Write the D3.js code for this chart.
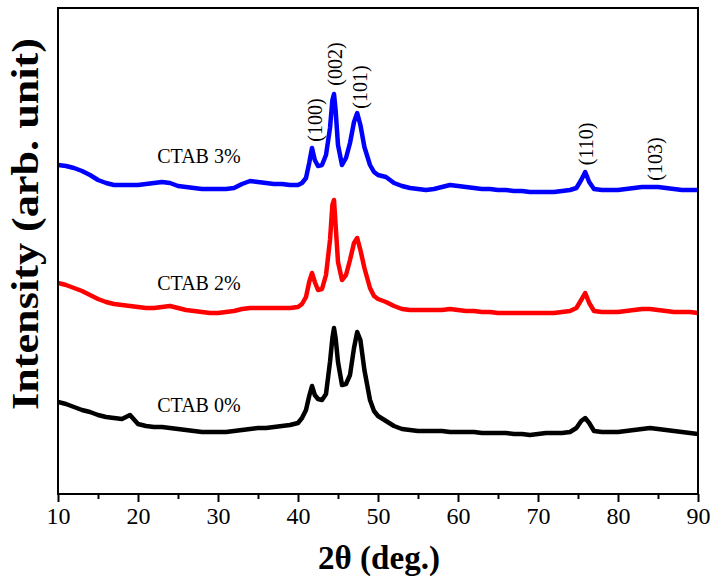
<!DOCTYPE html>
<html>
<head>
<meta charset="utf-8">
<script src="https://cdn.jsdelivr.net/npm/d3@7"></script>
<style>
  html, body { margin: 0; padding: 0; background: #fff; }
  svg { display: block; }
</style>
</head>
<body>
<div id="chart"></div>
<script>
// 2θ sample positions (deg.)
const twoTheta = [
  10,11,12,13,14,15,16,17,18,19,20,21,22,23,24,25,26,27,28,29,30,31,32,33,34,35,36,37,38,39,40,
  40.5,41,41.4,41.75,42.1,42.5,43,43.5,44,44.3,44.5,44.7,45,45.5,46,46.5,47,47.4,47.8,48.3,49,49.5,50,
  51,52,53,54,55,56,57,58,59,60,61,62,63,64,65,66,67,68,69,70,71,72,73,74,
  74.8,75.4,75.9,76.4,
  77,78,79,80,81,82,83,84,85,86,87,88,89,90
];

// Intensities (arb. unit, stacked as plotted)
const ctab3 = [
  329,328,326,323,319,314,311,309,309,309,309,310,311,312,311,308,307,306,305,305,305,305,306,310,313,312,311,310,310,309,309,
  311,316,331,346,334,328,329,339,366,394,400,384,349,329,336,351,372,381,369,347,329,322,319,
  317,311,308,306,305,304,305,307,309,308,307,306,305,305,304,304,303,303,302,302,302,302,303,304,
  306,314,322,312,
  305,304,304,304,305,306,307,307,307,306,305,304,304,304
];
const ctab2 = [
  211,209,206,203,199,195,192,190,189,188,187,186,186,187,188,186,184,183,182,181,181,182,183,185,186,186,186,186,186,186,187,
  190,197,212,221,212,204,205,219,254,289,294,269,232,214,219,234,251,256,244,226,206,198,195,
  192,188,185,184,184,184,184,184,185,184,183,183,182,182,181,181,181,181,181,181,181,181,182,183,
  186,194,201,191,
  183,182,182,182,183,184,185,185,184,183,182,182,182,181
];
const ctab0 = [
  92,90,87,84,82,79,77,76,75,79,70,68,67,67,66,65,64,63,62,62,62,62,63,64,65,66,66,67,68,69,71,
  76,84,98,108,99,95,94,100,132,156,166,156,132,109,110,119,146,162,154,124,94,83,78,
  73,68,65,64,63,63,63,63,62,62,62,62,61,61,61,61,60,60,59,60,61,61,61,62,
  66,73,76,71,
  63,62,62,62,63,64,65,66,65,64,63,62,61,60
];

const seriesNames = ["CTAB 0%", "CTAB 2%", "CTAB 3%"];
const seriesColors = ["#000000", "#ff0000", "#0000ff"];
const seriesValues = [ctab0, ctab2, ctab3];

const xTicks = [10,20,30,40,50,60,70,80,90];
const xMinorTicks = [15,25,35,45,55,65,75,85];

// Miller index labels: label, 2θ and intensity at label centre
const peakLabels = ["(100)", "(002)", "(101)", "(110)", "(103)"];
const peakTheta = [42.1, 44.6, 47.75, 76.0, 84.6];
const peakLevel = [374, 430, 407, 350, 335];

// Sample label anchors: 2θ and intensity
const sampleLabelTheta = [22.4, 22.4, 22.4];
const sampleLabelLevel = [82, 204, 331];

const W = 716, H = 580;
const margin = { left: 58, right: 18, top: 8, bottom: 86 };
const plotW = W - margin.left - margin.right;
const plotH = H - margin.top - margin.bottom;

const svg = d3.select("#chart").append("svg")
  .attr("width", W).attr("height", H)
  .style("font-family", "'Liberation Serif', 'Times New Roman', serif");

const x = d3.scaleLinear().domain([10, 90]).range([margin.left, margin.left + plotW]);
const y = d3.scaleLinear().domain([0, 486]).range([margin.top + plotH, margin.top]);

svg.append("defs").append("clipPath").attr("id", "clip")
  .append("rect").attr("x", margin.left).attr("y", margin.top)
  .attr("width", plotW).attr("height", plotH);

const line = d3.line()
  .x((d, i) => x(twoTheta[i]))
  .y(d => y(d));

const g = svg.append("g").attr("clip-path", "url(#clip)");
seriesValues.forEach((vals, k) => {
  g.append("path")
    .datum(vals)
    .attr("fill", "none")
    .attr("stroke", seriesColors[k])
    .attr("stroke-width", 4.5)
    .attr("stroke-linejoin", "round")
    .attr("d", line);
});

// frame
svg.append("rect")
  .attr("x", margin.left).attr("y", margin.top)
  .attr("width", plotW).attr("height", plotH)
  .attr("fill", "none").attr("stroke", "#000").attr("stroke-width", 2);

// x axis
const xAxis = d3.axisBottom(x).tickValues(xTicks).tickSize(8).tickPadding(5).tickFormat(d3.format("d"));
const ax = svg.append("g").attr("transform", `translate(0,${margin.top + plotH})`).call(xAxis);
ax.select(".domain").remove();
ax.selectAll(".tick line").attr("stroke", "#000").attr("stroke-width", 2);
ax.selectAll(".tick text").attr("font-size", 24).attr("fill", "#000")
  .style("font-family", "'Liberation Serif', serif");

const xMinor = d3.axisBottom(x).tickValues(xMinorTicks).tickSize(5).tickFormat("");
const axm = svg.append("g").attr("transform", `translate(0,${margin.top + plotH})`).call(xMinor);
axm.select(".domain").remove();
axm.selectAll(".tick line").attr("stroke", "#000").attr("stroke-width", 2);

// axis titles
svg.append("text")
  .attr("x", 379).attr("y", 569)
  .attr("text-anchor", "middle")
  .attr("font-size", 34).attr("font-weight", "bold")
  .attr("textLength", 122).attr("lengthAdjust", "spacingAndGlyphs")
  .text("2θ (deg.)");

svg.append("text")
  .attr("transform", "translate(38,224) rotate(-90)")
  .attr("text-anchor", "middle")
  .attr("font-size", 37).attr("font-weight", "bold")
  .attr("textLength", 372).attr("lengthAdjust", "spacingAndGlyphs")
  .text("Intensity (arb. unit)");

// sample labels
seriesNames.forEach((name, k) => {
  svg.append("text")
    .attr("x", x(sampleLabelTheta[k])).attr("y", y(sampleLabelLevel[k]))
    .attr("font-size", 20).attr("fill", "#000")
    .text(name);
});

// peak labels
peakLabels.forEach((lab, k) => {
  svg.append("text")
    .attr("transform", `translate(${x(peakTheta[k])},${y(peakLevel[k])}) rotate(-90)`)
    .attr("text-anchor", "middle")
    .attr("dominant-baseline", "central")
    .attr("font-size", 20).attr("fill", "#000")
    .text(lab);
});
</script>
</body>
</html>
